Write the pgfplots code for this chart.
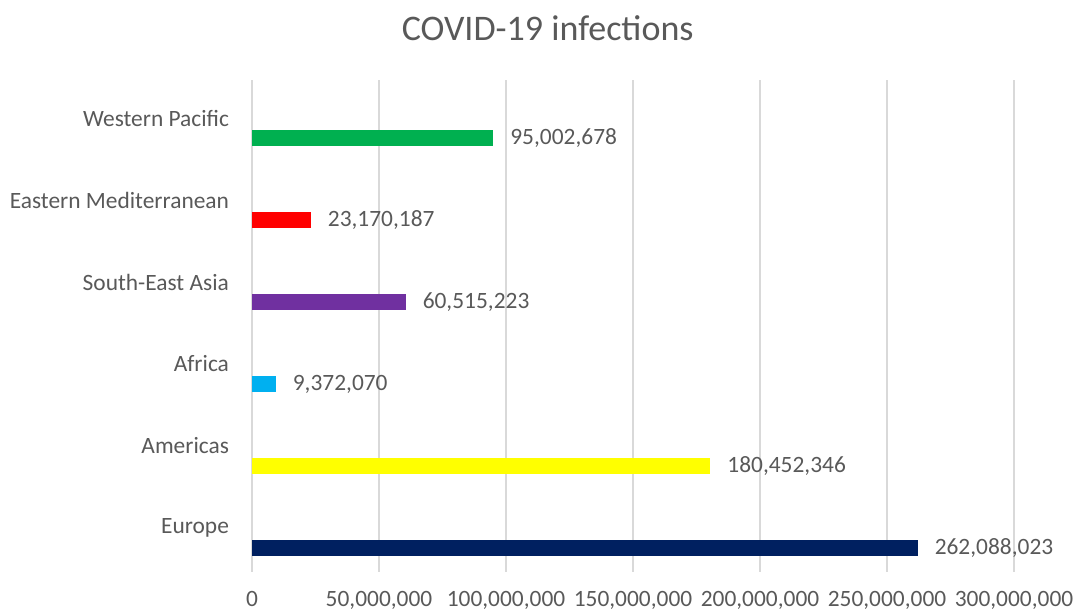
\documentclass[border=0pt]{standalone}
\usepackage{pgfplots}
\pgfplotsset{compat=1.18}
\usepackage{pgfplotstable}
\usepackage{fontspec}
\setmainfont{Carlito}

\definecolor{txt}{HTML}{595959}
\definecolor{gridc}{HTML}{D9D9D9}
\definecolor{cEur}{HTML}{002060}
\definecolor{cAme}{HTML}{FFFF00}
\definecolor{cAfr}{HTML}{00B0F0}
\definecolor{cSEA}{HTML}{7030A0}
\definecolor{cEMe}{HTML}{FF0000}
\definecolor{cWPa}{HTML}{00B050}

% Confirmed infections per WHO region; bars sit slightly below each category label
\pgfplotstableread{
x y label
262088023 -0.21 262,088,023
}\tEur
\pgfplotstableread{
x y label
180452346 0.79 180,452,346
}\tAme
\pgfplotstableread{
x y label
9372070 1.79 9,372,070
}\tAfr
\pgfplotstableread{
x y label
60515223 2.79 60,515,223
}\tSEA
\pgfplotstableread{
x y label
23170187 3.79 23,170,187
}\tEMe
\pgfplotstableread{
x y label
95002678 4.79 95,002,678
}\tWPa

\begin{document}
\begin{tikzpicture}
\useasboundingbox (-126pt,-19pt) rectangle (412.5pt,286pt);
\begin{axis}[
  at={(0pt,0pt)}, anchor=south west,
  scale only axis, width=381pt, height=246pt,
  xbar, bar width=8pt, bar shift=0pt,
  xmin=0, xmax=300000000,
  ymin=-0.5, ymax=5.5,
  axis line style={draw=none},
  xmajorgrids, grid style={gridc, line width=0.6pt},
  xtick={0,50000000,100000000,150000000,200000000,250000000,300000000},
  scaled x ticks=false,
  xticklabel style={yshift=-6pt,
    /pgf/number format/fixed,
    /pgf/number format/precision=0,
    /pgf/number format/1000 sep={,},
    /pgf/number format/assume math mode=true},
  ytick={0,1,2,3,4,5},
  yticklabels={Europe,Americas,Africa,South-East Asia,Eastern Mediterranean,Western Pacific},
  major tick length=0pt,
  tick label style={font=\fontsize{11.7}{13}\selectfont, text=txt},
  yticklabel style={xshift=-8pt, yshift=1.5pt},
  title={COVID-19 infections},
  every axis title shift=0pt,
  title style={at={(rel axis cs:0.388,1.106)}, anchor=center, font=\fontsize{18}{21}\selectfont, text=txt},
  point meta=explicit symbolic,
  nodes near coords,
  nodes near coords style={font=\fontsize{11.7}{13}\selectfont, text=txt, anchor=west, xshift=5pt},
  clip=false,
]
\addplot[fill=cEur, draw=none] table[x=x, y=y, meta=label] {\tEur};
\addplot[fill=cAme, draw=none] table[x=x, y=y, meta=label] {\tAme};
\addplot[fill=cAfr, draw=none] table[x=x, y=y, meta=label] {\tAfr};
\addplot[fill=cSEA, draw=none] table[x=x, y=y, meta=label] {\tSEA};
\addplot[fill=cEMe, draw=none] table[x=x, y=y, meta=label] {\tEMe};
\addplot[fill=cWPa, draw=none] table[x=x, y=y, meta=label] {\tWPa};
\end{axis}
\end{tikzpicture}
\end{document}
